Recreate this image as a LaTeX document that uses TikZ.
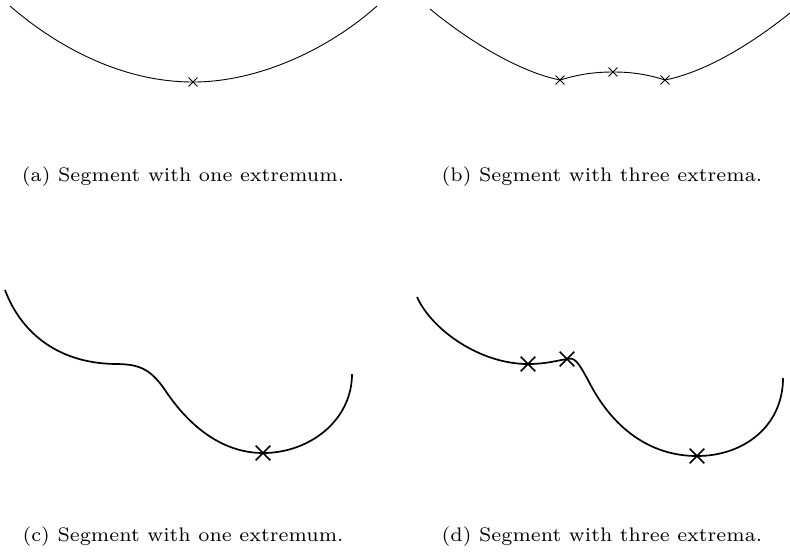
\documentclass[tikz,border=0pt]{standalone}
\usetikzlibrary{shapes.misc}
\tikzset{
  thinseg/.style={line width=0.45pt},
  thickseg/.style={line width=0.85pt},
  thinmark/.style={cross out, draw, line width=0.45pt, minimum size=4pt, inner sep=0pt},
  thickmark/.style={cross out, draw, line width=0.85pt, minimum size=6.5pt, inner sep=0pt},
  subcap/.style={anchor=base, font=\fontsize{7}{8}\selectfont, scale=1.4, inner sep=0pt}
}
\begin{document}
\begin{tikzpicture}[x=0.5pt, y=-0.5pt]
  \useasboundingbox (0,0) rectangle (790,559);
  % (a) one extremum
  \coordinate (a0) at (10,6);
  \coordinate (a1) at (377,6);
  \node[thinmark] (ma) at (193,82) {};
  \draw[thinseg] (a0) .. controls (55,45) and (120,82) .. (ma.center)
    .. controls (260,82) and (330,48) .. (a1);
  \node[subcap] (capa) at (183,181) {(a) Segment with one extremum.};
  % (b) three extrema
  \coordinate (b0) at (430,9);
  \coordinate (b1) at (790,13);
  \node[thinmark] (mb1) at (560,80) {};
  \node[thinmark] (mb2) at (613,72) {};
  \node[thinmark] (mb3) at (665,80) {};
  \draw[thinseg] (b0) .. controls (470,42) and (520,72) .. (mb1.center)
    .. controls (580,74) and (595,72) .. (mb2.center)
    .. controls (631,72) and (646,74) .. (mb3.center)
    .. controls (705,72) and (750,45) .. (b1);
  \node[subcap] (capb) at (602,181) {(b) Segment with three extrema.};
  % (c) one extremum, thick
  \coordinate (c0) at (5,290);
  \coordinate (c1) at (352,374);
  \node[thickmark] (mc) at (263,453) {};
  \draw[thickseg] (c0) .. controls (20,330) and (55,363) .. (115,364)
    .. controls (138,364) and (150,368) .. (165,390)
    .. controls (195,435) and (230,453) .. (mc.center)
    .. controls (310,453) and (352,420) .. (c1);
  \node[subcap] (capc) at (183,541) {(c) Segment with one extremum.};
  % (d) three extrema, thick
  \coordinate (d0) at (417,297);
  \coordinate (d1) at (783,378);
  \node[thickmark] (md1) at (528,364) {};
  \node[thickmark] (md2) at (567,359) {};
  \node[thickmark] (md3) at (697,456) {};
  \draw[thickseg] (d0) .. controls (432,330) and (480,364) .. (md1.center)
    .. controls (545,364) and (555,361) .. (md2.center)
    .. controls (575,357) and (578,362) .. (588,380)
    .. controls (612,428) and (650,456) .. (md3.center)
    .. controls (745,456) and (783,425) .. (d1);
  \node[subcap] (capd) at (602,541) {(d) Segment with three extrema.};
\end{tikzpicture}
\end{document}
